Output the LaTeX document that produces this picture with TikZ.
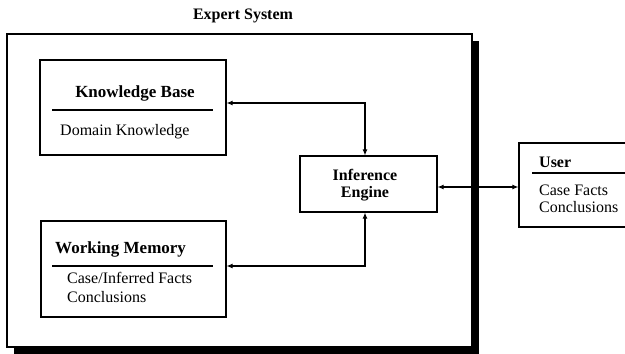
\documentclass[tikz,border=0pt]{standalone}
\usepackage{fontspec}
\setmainfont{Liberation Serif}
\usetikzlibrary{arrows.meta,shadows}
\begin{document}
\begin{tikzpicture}[x=1pt,y=-1pt,
  box/.style={draw, line width=1.1pt, fill=white, inner sep=0pt},
  rulel/.style={line width=1.8pt},
  arr/.style={line width=1.1pt, {Latex[length=6pt,width=5pt]}-{Latex[length=6pt,width=5pt]}},
  ttl/.style={font=\fontsize{17}{20}\selectfont\bfseries, inner sep=0pt},
  bdy/.style={font=\fontsize{16}{18}\selectfont, inner sep=0pt},
  bttl/.style={font=\fontsize{16}{18}\selectfont\bfseries, inner sep=0pt}]
\useasboundingbox (0,0) rectangle (625,354);
\clip (0,0) rectangle (625,354);
% outer expert system box
\node[box, minimum width=465pt, minimum height=313pt,
  drop shadow={shadow xshift=7pt, shadow yshift=-7pt, opacity=1, fill=black}] (es) at (239.5,190.5) {};
\node[bttl, anchor=base] (estitle) at (243,19) {Expert System};
% knowledge base
\node[box, minimum width=186pt, minimum height=95pt] (kb) at (133,107.5) {};
\node[ttl, anchor=base] (kbt) at (135,97) {Knowledge Base};
\draw[rulel] (52,110) -- (213,110);
\node[bdy, anchor=base west] (kbd) at (60,135) {Domain Knowledge};
% working memory
\node[box, minimum width=185pt, minimum height=96pt] (wm) at (133.5,269) {};
\node[ttl, anchor=base west] (wmt) at (55,253) {Working Memory};
\draw[rulel] (52,266) -- (213,266);
\node[bdy, anchor=base west] (wm1) at (67,283) {Case/Inferred Facts};
\node[bdy, anchor=base west] (wm2) at (67,302) {Conclusions};
% inference engine
\node[box, minimum width=137pt, minimum height=56pt] (ie) at (368.5,184) {};
\node[bttl, anchor=base] (ie1) at (365,180) {Inference};
\node[bttl, anchor=base] (ie2) at (365,197) {Engine};
% user
\node[box, minimum width=130pt, minimum height=84pt] (us) at (584,185) {};
\node[bttl, anchor=base west] (us0) at (539,167) {User};
\draw[rulel] (532,173) -- (625,173);
\node[bdy, anchor=base west] (us1) at (539,195) {Case Facts};
\node[bdy, anchor=base west] (us2) at (539,212) {Conclusions};
% connectors
\draw[arr] ([yshift=4.5pt]kb.east) -| ([xshift=-3.5pt]ie.north);
\draw[arr] ([yshift=3pt]wm.east) -| ([xshift=-3.5pt]ie.south);
\draw[arr] ([yshift=-3pt]ie.east) -- ([yshift=-3pt]ie.east -| us.west);
\end{tikzpicture}
\end{document}
